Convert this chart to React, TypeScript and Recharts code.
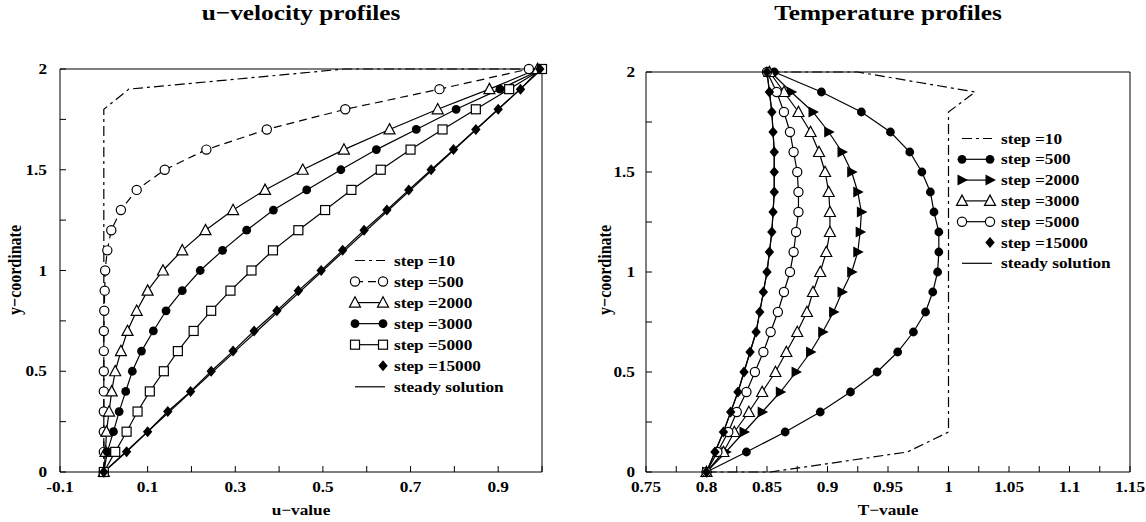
import React from 'react'
import { LineChart, Line, XAxis, YAxis, Legend } from 'recharts'

const SERIF = '"Liberation Serif", "Times New Roman", Times, serif'
const SX = 1.15 // the source picture is a little wider than tall

// shared grid of the profiles
const yLevels = [0, 0.1, 0.2, 0.3, 0.4, 0.5, 0.6, 0.7, 0.8, 0.9, 1.0, 1.1, 1.2, 1.3, 1.4, 1.5, 1.6, 1.7, 1.8, 1.9, 2.0]

// u-velocity profiles
const uStep10 = [0, 0, 0.057, 0.55, 1.0]
const yStep10u = [0, 1.8, 1.9, 2.0, 2.0]
const uStep500 = [0, 0, 0, 0, 0, 0, 0, 0, 0.001, 0.002, 0.003, 0.008, 0.017, 0.039, 0.075, 0.139, 0.234, 0.372, 0.551, 0.766, 0.97]
const uStep2000 = [0, 0.004, 0.006, 0.012, 0.018, 0.026, 0.039, 0.054, 0.075, 0.1, 0.135, 0.179, 0.232, 0.295, 0.368, 0.454, 0.548, 0.652, 0.762, 0.88, 0.99]
const uStep3000 = [0, 0.008, 0.022, 0.035, 0.05, 0.065, 0.086, 0.113, 0.142, 0.179, 0.22, 0.271, 0.326, 0.387, 0.463, 0.541, 0.622, 0.713, 0.804, 0.904, 1.0]
const uStep5000 = [0, 0.026, 0.052, 0.077, 0.105, 0.137, 0.169, 0.205, 0.245, 0.289, 0.337, 0.386, 0.444, 0.505, 0.565, 0.632, 0.7, 0.773, 0.849, 0.925, 1.0]
const uStep15000 = [0, 0.052, 0.1, 0.146, 0.198, 0.245, 0.295, 0.343, 0.395, 0.444, 0.496, 0.545, 0.594, 0.646, 0.696, 0.747, 0.798, 0.849, 0.9, 0.951, 0.995]
const uSteady = [0, 1.0]
const ySteadyU = [0, 2.0]

// temperature profiles
const tStep10 = [0.8, 0.853, 0.966, 1.0, 1.0, 1.022, 0.925, 0.85]
const yStep10t = [0, 0, 0.1, 0.2, 1.8, 1.9, 2.0, 2.0]
const tStep500 = [0.8, 0.833, 0.865, 0.894, 0.919, 0.941, 0.958, 0.971, 0.981, 0.987, 0.991, 0.992, 0.992, 0.988, 0.985, 0.978, 0.968, 0.952, 0.928, 0.895, 0.856]
const tStep2000 = [0.8, 0.816, 0.831, 0.846, 0.861, 0.874, 0.886, 0.896, 0.905, 0.912, 0.92, 0.925, 0.927, 0.928, 0.925, 0.92, 0.912, 0.901, 0.888, 0.87, 0.853]
const tStep3000 = [0.8, 0.814, 0.823, 0.835, 0.846, 0.857, 0.866, 0.875, 0.883, 0.888, 0.894, 0.899, 0.902, 0.902, 0.901, 0.898, 0.893, 0.886, 0.876, 0.864, 0.852]
const tStep5000 = [0.8, 0.809, 0.818, 0.825, 0.833, 0.84, 0.847, 0.853, 0.859, 0.864, 0.869, 0.872, 0.874, 0.876, 0.876, 0.875, 0.872, 0.869, 0.864, 0.858, 0.85]
const tStep15000 = [0.8, 0.807, 0.814, 0.82, 0.826, 0.831, 0.836, 0.841, 0.844, 0.847, 0.85, 0.852, 0.854, 0.855, 0.856, 0.856, 0.856, 0.855, 0.854, 0.852, 0.85]
const tSteady = [0.8, 0.807, 0.814, 0.82, 0.826, 0.831, 0.836, 0.841, 0.844, 0.847, 0.85, 0.852, 0.854, 0.855, 0.856, 0.856, 0.856, 0.855, 0.854, 0.852, 0.85]

// ticks
const uTicks = [-0.1, 0, 0.1, 0.2, 0.3, 0.4, 0.5, 0.6, 0.7, 0.8, 0.9, 1.0]
const uLabelled = [-0.1, 0.1, 0.3, 0.5, 0.7, 0.9]
const tTicks = [0.75, 0.775, 0.8, 0.825, 0.85, 0.875, 0.9, 0.925, 0.95, 0.975, 1.0, 1.025, 1.05, 1.075, 1.1, 1.125, 1.15]
const tLabelled = [0.75, 0.8, 0.85, 0.9, 0.95, 1, 1.05, 1.1, 1.15]
const yTicks = [0, 0.25, 0.5, 0.75, 1, 1.25, 1.5, 1.75, 2]
const yLabelled = [0, 0.5, 1, 1.5, 2]

const uLegend = ['step =10', 'step =500', 'step =2000', 'step =3000', 'step =5000', 'step =15000', 'steady solution']
const tLegend = ['step =10', 'step =500', 'step =2000', 'step =3000', 'step =5000', 'step =15000', 'steady solution']

type Shape = 'circle' | 'disc' | 'square' | 'triangle' | 'tri-right' | 'diamond'
type Ends = 'both' | 'right' | 'none'
type Series = { name: string; xs: number[]; ys: number[]; dash?: string; shape?: Shape; ends: Ends }

const pts = (xs: number[], ys: number[]) => xs.map((x, i) => ({ x, y: ys[i] }))

function Marker({ cx, cy, shape }: { cx: number; cy: number; shape: Shape }) {
  const s = { stroke: '#000', strokeWidth: 1.2 }
  if (shape === 'circle') return <circle cx={cx} cy={cy} r={4.6} fill="#fff" {...s} />
  if (shape === 'disc') return <circle cx={cx} cy={cy} r={4.4} fill="#000" />
  if (shape === 'square') return <rect x={cx - 4.5} y={cy - 4.5} width={9} height={9} fill="#fff" {...s} />
  if (shape === 'triangle')
    return <polygon points={`${cx},${cy - 5.8} ${cx + 5.5},${cy + 4.5} ${cx - 5.5},${cy + 4.5}`} fill="#fff" {...s} />
  if (shape === 'tri-right')
    return <polygon points={`${cx - 4.5},${cy - 5.5} ${cx + 6},${cy} ${cx - 4.5},${cy + 5.5}`} fill="#000" />
  return <polygon points={`${cx},${cy - 5.5} ${cx + 4.7},${cy} ${cx},${cy + 5.5} ${cx - 4.7},${cy}`} fill="#000" />
}

const makeDot = (shape: Shape) => (p: any) => (
  <Marker key={`${shape}-${p.index}`} cx={p.cx} cy={p.cy} shape={shape} />
)

function tickLabel(x: number, y: number, text: string, anchor: 'middle' | 'end') {
  return (
    <text
      transform={`translate(${x},${y}) scale(${SX},1)`}
      textAnchor={anchor}
      fontFamily={SERIF}
      fontWeight="bold"
      fontSize={15}
      fill="#000"
    >
      {text}
    </text>
  )
}

const isIn = (list: number[], v: number) => list.some((l) => Math.abs(l - v) < 1e-6)

const makeTick =
  (side: 'bottom' | 'top' | 'left' | 'right', labelled: number[], fmt: (v: number) => string, gap = 12) =>
  (props: any) => {
    const { x, y, payload } = props
    const v = payload.value as number
    const show = isIn(labelled, v)
    const st = { stroke: '#000', strokeWidth: 1 }
    let tick
    if (side === 'bottom') tick = <line x1={x} y1={y} x2={x} y2={y - 6} {...st} />
    else if (side === 'top') tick = <line x1={x} y1={y} x2={x} y2={y + 6} {...st} />
    else if (side === 'left') tick = <line x1={x} y1={y} x2={x + 6} y2={y} {...st} />
    else tick = <line x1={x} y1={y} x2={x - 6} y2={y} {...st} />
    return (
      <g key={`${side}-${v}`}>
        {tick}
        {show && side === 'bottom' && tickLabel(x, y + 20, fmt(v), 'middle')}
        {show && side === 'left' && tickLabel(x - gap, y + 5, fmt(v), 'end')}
      </g>
    )
  }

function LegendBox({ series, rowH }: { series: Series[]; rowH: number }) {
  return (
    <svg width={230} height={series.length * rowH + 8} style={{ display: 'block', overflow: 'visible' }}>
      {series.map((s, i) => {
        const cy = 10.5 + i * rowH
        const x0 = 7
        const x1 = 37
        return (
          <g key={s.name}>
            {s.ends !== 'right' && (
              <line x1={x0} y1={cy} x2={x1} y2={cy} stroke="#000" strokeWidth={1.2} strokeDasharray={s.dash} />
            )}
            {s.shape && s.ends === 'both' && <Marker cx={x0} cy={cy} shape={s.shape} />}
            {s.shape && s.ends !== 'none' && <Marker cx={x1 - 2} cy={cy} shape={s.shape} />}
            <text
              transform={`translate(46,${cy + 5}) scale(${SX},1)`}
              fontFamily={SERIF}
              fontWeight="bold"
              fontSize={15}
              fill="#000"
            >
              {s.name}
            </text>
          </g>
        )
      })}
    </svg>
  )
}

type PanelProps = {
  left: number
  width: number
  margin: { top: number; right: number; bottom: number; left: number }
  xDomain: [number, number]
  xTicks: number[]
  xLabelled: number[]
  xFmt: (v: number) => string
  yGap: number
  series: Series[]
  legendPos: { left: number; top: number }
  rowH: number
}

function Panel(p: PanelProps) {
  const fmtY = (v: number) => String(v)
  const frame = { stroke: '#000', strokeWidth: 1 }
  return (
    <div style={{ position: 'absolute', left: p.left, top: 0 }}>
      <LineChart width={p.width} height={522} margin={p.margin}>
        <XAxis
          dataKey="x"
          type="number"
          domain={p.xDomain}
          ticks={p.xTicks}
          interval={0}
          height={1}
          tickSize={0}
          tickMargin={0}
          tickLine={false}
          axisLine={frame}
          tick={makeTick('bottom', p.xLabelled, p.xFmt)}
        />
        <XAxis
          xAxisId="top"
          orientation="top"
          type="number"
          domain={p.xDomain}
          ticks={p.xTicks}
          interval={0}
          height={1}
          tickSize={0}
          tickMargin={0}
          tickLine={false}
          axisLine={frame}
          tick={makeTick('top', [], p.xFmt)}
        />
        <YAxis
          type="number"
          domain={[0, 2]}
          ticks={yTicks}
          interval={0}
          width={1}
          tickSize={0}
          tickMargin={0}
          tickLine={false}
          axisLine={frame}
          tick={makeTick('left', yLabelled, fmtY, p.yGap)}
        />
        <YAxis
          yAxisId="right"
          orientation="right"
          type="number"
          domain={[0, 2]}
          ticks={yTicks}
          interval={0}
          width={1}
          tickSize={0}
          tickMargin={0}
          tickLine={false}
          axisLine={frame}
          tick={makeTick('right', [], fmtY)}
        />
        <Legend
          layout="horizontal"
          verticalAlign="middle"
          align="center"
          wrapperStyle={{ left: p.legendPos.left, top: p.legendPos.top, width: 230 }}
          content={() => <LegendBox series={p.series} rowH={p.rowH} />}
        />
        {p.series.map((s) => (
          <Line
            key={s.name}
            data={pts(s.xs, s.ys)}
            dataKey="y"
            name={s.name}
            type="linear"
            stroke="#000"
            strokeWidth={1.2}
            strokeDasharray={s.dash}
            dot={s.shape ? makeDot(s.shape) : false}
            activeDot={false}
            isAnimationActive={false}
          />
        ))}
      </LineChart>
    </div>
  )
}

const uSeries: Series[] = [
  { name: uLegend[0], xs: uStep10, ys: yStep10u, dash: '10 4 3 4', ends: 'none' },
  { name: uLegend[1], xs: uStep500, ys: yLevels, dash: '8 5', shape: 'circle', ends: 'both' },
  { name: uLegend[2], xs: uStep2000, ys: yLevels, shape: 'triangle', ends: 'both' },
  { name: uLegend[3], xs: uStep3000, ys: yLevels, shape: 'disc', ends: 'both' },
  { name: uLegend[4], xs: uStep5000, ys: yLevels, shape: 'square', ends: 'both' },
  { name: uLegend[5], xs: uStep15000, ys: yLevels, shape: 'diamond', ends: 'right' },
  { name: uLegend[6], xs: uSteady, ys: ySteadyU, ends: 'none' },
]

const tSeries: Series[] = [
  { name: tLegend[0], xs: tStep10, ys: yStep10t, dash: '10 4 3 4', ends: 'none' },
  { name: tLegend[1], xs: tStep500, ys: yLevels, shape: 'disc', ends: 'both' },
  { name: tLegend[2], xs: tStep2000, ys: yLevels, shape: 'tri-right', ends: 'both' },
  { name: tLegend[3], xs: tStep3000, ys: yLevels, shape: 'triangle', ends: 'both' },
  { name: tLegend[4], xs: tStep5000, ys: yLevels, shape: 'circle', ends: 'both' },
  { name: tLegend[5], xs: tStep15000, ys: yLevels, shape: 'diamond', ends: 'right' },
  { name: tLegend[6], xs: tSteady, ys: yLevels, ends: 'none' },
]

function Caption({ x, y, text, size, rotate }: { x: number; y: number; text: string; size: number; rotate?: boolean }) {
  return (
    <text
      transform={`translate(${x},${y}) scale(${SX},1)${rotate ? ' rotate(-90)' : ''}`}
      textAnchor="middle"
      fontFamily={SERIF}
      fontWeight="bold"
      fontSize={size}
      fill="#000"
    >
      {text}
    </text>
  )
}

export default function App() {
  return (
    <div style={{ position: 'absolute', left: 0, top: 0, width: 1146, height: 522, background: '#fff', overflow: 'hidden' }}>
      <Panel
        left={0}
        width={573}
        margin={{ top: 68, right: 30, bottom: 49, left: 59 }}
        xDomain={[-0.1, 1.0]}
        xTicks={uTicks}
        xLabelled={uLabelled}
        xFmt={(v) => v.toFixed(1)}
        yGap={13}
        series={uSeries}
        legendPos={{ left: 348, top: 250 }}
        rowH={21.05}
      />
      <Panel
        left={573}
        width={573}
        margin={{ top: 71, right: 15, bottom: 49, left: 72 }}
        xDomain={[0.75, 1.15]}
        xTicks={tTicks}
        xLabelled={tLabelled}
        xFmt={(v) => String(v)}
        yGap={11}
        series={tSeries}
        legendPos={{ left: 382, top: 128 }}
        rowH={20.8}
      />
      <svg width={1146} height={522} style={{ position: 'absolute', left: 0, top: 0, pointerEvents: 'none' }}>
        <Caption x={301} y={20} text="u−velocity profiles" size={22} />
        <Caption x={888} y={20} text="Temperature profiles" size={22} />
        <Caption x={301} y={515} text="u−value" size={15} />
        <Caption x={888} y={515} text="T−vaule" size={15} />
        <Caption x={21} y={270} text="y−coordinate" size={16} rotate />
        <Caption x={611} y={270} text="y−coordinate" size={16} rotate />
      </svg>
    </div>
  )
}
